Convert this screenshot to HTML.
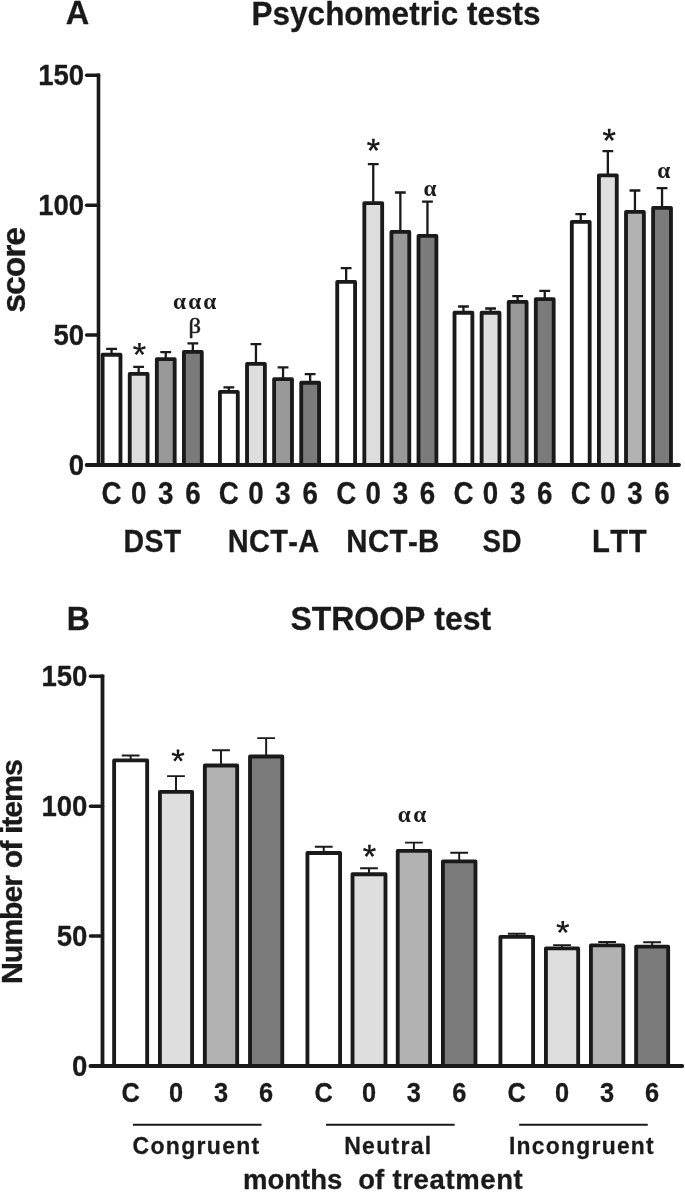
<!DOCTYPE html>
<html><head><meta charset="utf-8"><title>Figure</title>
<style>
html,body{margin:0;padding:0;background:#fff;}
body{width:685px;height:1192px;overflow:hidden;font-family:"Liberation Sans",sans-serif;}
svg{display:block;will-change:transform;}
text{font-kerning:none;}
</style></head><body>
<svg width="685" height="1192" viewBox="0 0 685 1192">
<rect width="685" height="1192" fill="#ffffff"/>
<path d="M111.55 353.80V348.90M106.15 348.90H116.95" stroke="#1a1a1a" stroke-width="2.3" fill="none"/>
<path d="M138.65 373.00V366.90M133.25 366.90H144.05" stroke="#1a1a1a" stroke-width="2.3" fill="none"/>
<path d="M165.75 358.20V352.10M160.35 352.10H171.15" stroke="#1a1a1a" stroke-width="2.3" fill="none"/>
<path d="M192.85 351.00V343.30M187.45 343.30H198.25" stroke="#1a1a1a" stroke-width="2.3" fill="none"/>
<path d="M228.85 391.00V387.30M223.45 387.30H234.25" stroke="#1a1a1a" stroke-width="2.3" fill="none"/>
<path d="M255.95 363.00V344.10M250.55 344.10H261.35" stroke="#1a1a1a" stroke-width="2.3" fill="none"/>
<path d="M283.05 378.20V367.30M277.65 367.30H288.45" stroke="#1a1a1a" stroke-width="2.3" fill="none"/>
<path d="M310.15 381.80V374.10M304.75 374.10H315.55" stroke="#1a1a1a" stroke-width="2.3" fill="none"/>
<path d="M346.15 281.00V268.10M340.75 268.10H351.55" stroke="#1a1a1a" stroke-width="2.3" fill="none"/>
<path d="M373.25 202.20V164.10M367.85 164.10H378.65" stroke="#1a1a1a" stroke-width="2.3" fill="none"/>
<path d="M400.35 231.00V192.50M394.95 192.50H405.75" stroke="#1a1a1a" stroke-width="2.3" fill="none"/>
<path d="M427.45 235.00V201.70M422.05 201.70H432.85" stroke="#1a1a1a" stroke-width="2.3" fill="none"/>
<path d="M463.45 311.80V306.50M458.05 306.50H468.85" stroke="#1a1a1a" stroke-width="2.3" fill="none"/>
<path d="M490.55 311.80V308.50M485.15 308.50H495.95" stroke="#1a1a1a" stroke-width="2.3" fill="none"/>
<path d="M517.65 301.00V296.10M512.25 296.10H523.05" stroke="#1a1a1a" stroke-width="2.3" fill="none"/>
<path d="M544.75 298.20V290.90M539.35 290.90H550.15" stroke="#1a1a1a" stroke-width="2.3" fill="none"/>
<path d="M580.75 221.00V214.10M575.35 214.10H586.15" stroke="#1a1a1a" stroke-width="2.3" fill="none"/>
<path d="M607.85 174.40V151.10M602.45 151.10H613.25" stroke="#1a1a1a" stroke-width="2.3" fill="none"/>
<path d="M634.95 211.00V190.50M629.55 190.50H640.35" stroke="#1a1a1a" stroke-width="2.3" fill="none"/>
<path d="M662.05 207.00V188.10M656.65 188.10H667.45" stroke="#1a1a1a" stroke-width="2.3" fill="none"/>
<rect x="102.62" y="354.73" width="17.85" height="110.27" fill="#ffffff" stroke="#1a1a1a" stroke-width="3.85" stroke-linejoin="round"/>
<text transform="translate(111.55 503.90) scale(0.88 1)" font-family="Liberation Sans, sans-serif" font-size="31.5" font-weight="bold" text-anchor="middle" fill="#1a1a1a" stroke="#1a1a1a" stroke-width="0.3" stroke-linejoin="round" >C</text>
<rect x="129.73" y="373.93" width="17.85" height="91.07" fill="#dedede" stroke="#1a1a1a" stroke-width="3.85" stroke-linejoin="round"/>
<text transform="translate(138.65 503.90) scale(0.88 1)" font-family="Liberation Sans, sans-serif" font-size="31.5" font-weight="bold" text-anchor="middle" fill="#1a1a1a" stroke="#1a1a1a" stroke-width="0.3" stroke-linejoin="round" >0</text>
<rect x="156.83" y="359.12" width="17.85" height="105.88" fill="#999999" stroke="#1a1a1a" stroke-width="3.85" stroke-linejoin="round"/>
<text transform="translate(165.75 503.90) scale(0.88 1)" font-family="Liberation Sans, sans-serif" font-size="31.5" font-weight="bold" text-anchor="middle" fill="#1a1a1a" stroke="#1a1a1a" stroke-width="0.3" stroke-linejoin="round" >3</text>
<rect x="183.93" y="351.93" width="17.85" height="113.07" fill="#7b7b7b" stroke="#1a1a1a" stroke-width="3.85" stroke-linejoin="round"/>
<text transform="translate(192.85 503.90) scale(0.88 1)" font-family="Liberation Sans, sans-serif" font-size="31.5" font-weight="bold" text-anchor="middle" fill="#1a1a1a" stroke="#1a1a1a" stroke-width="0.3" stroke-linejoin="round" >6</text>
<text transform="translate(152.50 551.60) scale(0.905 1)" font-family="Liberation Sans, sans-serif" font-size="31.5" font-weight="bold" text-anchor="middle" fill="#1a1a1a" stroke="#1a1a1a" stroke-width="0.3" stroke-linejoin="round" letter-spacing="0.4">DST</text>
<rect x="219.93" y="391.93" width="17.85" height="73.07" fill="#ffffff" stroke="#1a1a1a" stroke-width="3.85" stroke-linejoin="round"/>
<text transform="translate(228.85 503.90) scale(0.88 1)" font-family="Liberation Sans, sans-serif" font-size="31.5" font-weight="bold" text-anchor="middle" fill="#1a1a1a" stroke="#1a1a1a" stroke-width="0.3" stroke-linejoin="round" >C</text>
<rect x="247.03" y="363.93" width="17.85" height="101.07" fill="#dedede" stroke="#1a1a1a" stroke-width="3.85" stroke-linejoin="round"/>
<text transform="translate(255.95 503.90) scale(0.88 1)" font-family="Liberation Sans, sans-serif" font-size="31.5" font-weight="bold" text-anchor="middle" fill="#1a1a1a" stroke="#1a1a1a" stroke-width="0.3" stroke-linejoin="round" >0</text>
<rect x="274.12" y="379.12" width="17.85" height="85.88" fill="#999999" stroke="#1a1a1a" stroke-width="3.85" stroke-linejoin="round"/>
<text transform="translate(283.05 503.90) scale(0.88 1)" font-family="Liberation Sans, sans-serif" font-size="31.5" font-weight="bold" text-anchor="middle" fill="#1a1a1a" stroke="#1a1a1a" stroke-width="0.3" stroke-linejoin="round" >3</text>
<rect x="301.23" y="382.73" width="17.85" height="82.27" fill="#7b7b7b" stroke="#1a1a1a" stroke-width="3.85" stroke-linejoin="round"/>
<text transform="translate(310.15 503.90) scale(0.88 1)" font-family="Liberation Sans, sans-serif" font-size="31.5" font-weight="bold" text-anchor="middle" fill="#1a1a1a" stroke="#1a1a1a" stroke-width="0.3" stroke-linejoin="round" >6</text>
<text transform="translate(273.60 551.60) scale(0.92 1)" font-family="Liberation Sans, sans-serif" font-size="31.5" font-weight="bold" text-anchor="middle" fill="#1a1a1a" stroke="#1a1a1a" stroke-width="0.3" stroke-linejoin="round" letter-spacing="0.4">NCT-A</text>
<rect x="337.23" y="281.93" width="17.85" height="183.07" fill="#ffffff" stroke="#1a1a1a" stroke-width="3.85" stroke-linejoin="round"/>
<text transform="translate(346.15 503.90) scale(0.88 1)" font-family="Liberation Sans, sans-serif" font-size="31.5" font-weight="bold" text-anchor="middle" fill="#1a1a1a" stroke="#1a1a1a" stroke-width="0.3" stroke-linejoin="round" >C</text>
<rect x="364.33" y="203.12" width="17.85" height="261.88" fill="#dedede" stroke="#1a1a1a" stroke-width="3.85" stroke-linejoin="round"/>
<text transform="translate(373.25 503.90) scale(0.88 1)" font-family="Liberation Sans, sans-serif" font-size="31.5" font-weight="bold" text-anchor="middle" fill="#1a1a1a" stroke="#1a1a1a" stroke-width="0.3" stroke-linejoin="round" >0</text>
<rect x="391.43" y="231.93" width="17.85" height="233.07" fill="#999999" stroke="#1a1a1a" stroke-width="3.85" stroke-linejoin="round"/>
<text transform="translate(400.35 503.90) scale(0.88 1)" font-family="Liberation Sans, sans-serif" font-size="31.5" font-weight="bold" text-anchor="middle" fill="#1a1a1a" stroke="#1a1a1a" stroke-width="0.3" stroke-linejoin="round" >3</text>
<rect x="418.53" y="235.93" width="17.85" height="229.07" fill="#7b7b7b" stroke="#1a1a1a" stroke-width="3.85" stroke-linejoin="round"/>
<text transform="translate(427.45 503.90) scale(0.88 1)" font-family="Liberation Sans, sans-serif" font-size="31.5" font-weight="bold" text-anchor="middle" fill="#1a1a1a" stroke="#1a1a1a" stroke-width="0.3" stroke-linejoin="round" >6</text>
<text transform="translate(393.00 551.60) scale(0.935 1)" font-family="Liberation Sans, sans-serif" font-size="31.5" font-weight="bold" text-anchor="middle" fill="#1a1a1a" stroke="#1a1a1a" stroke-width="0.3" stroke-linejoin="round" letter-spacing="0.4">NCT-B</text>
<rect x="454.52" y="312.73" width="17.85" height="152.27" fill="#ffffff" stroke="#1a1a1a" stroke-width="3.85" stroke-linejoin="round"/>
<text transform="translate(463.45 503.90) scale(0.88 1)" font-family="Liberation Sans, sans-serif" font-size="31.5" font-weight="bold" text-anchor="middle" fill="#1a1a1a" stroke="#1a1a1a" stroke-width="0.3" stroke-linejoin="round" >C</text>
<rect x="481.62" y="312.73" width="17.85" height="152.27" fill="#dedede" stroke="#1a1a1a" stroke-width="3.85" stroke-linejoin="round"/>
<text transform="translate(490.55 503.90) scale(0.88 1)" font-family="Liberation Sans, sans-serif" font-size="31.5" font-weight="bold" text-anchor="middle" fill="#1a1a1a" stroke="#1a1a1a" stroke-width="0.3" stroke-linejoin="round" >0</text>
<rect x="508.72" y="301.93" width="17.85" height="163.07" fill="#999999" stroke="#1a1a1a" stroke-width="3.85" stroke-linejoin="round"/>
<text transform="translate(517.65 503.90) scale(0.88 1)" font-family="Liberation Sans, sans-serif" font-size="31.5" font-weight="bold" text-anchor="middle" fill="#1a1a1a" stroke="#1a1a1a" stroke-width="0.3" stroke-linejoin="round" >3</text>
<rect x="535.82" y="299.12" width="17.85" height="165.88" fill="#7b7b7b" stroke="#1a1a1a" stroke-width="3.85" stroke-linejoin="round"/>
<text transform="translate(544.75 503.90) scale(0.88 1)" font-family="Liberation Sans, sans-serif" font-size="31.5" font-weight="bold" text-anchor="middle" fill="#1a1a1a" stroke="#1a1a1a" stroke-width="0.3" stroke-linejoin="round" >6</text>
<text transform="translate(502.20 551.60) scale(0.88 1)" font-family="Liberation Sans, sans-serif" font-size="31.5" font-weight="bold" text-anchor="middle" fill="#1a1a1a" stroke="#1a1a1a" stroke-width="0.3" stroke-linejoin="round" letter-spacing="0.4">SD</text>
<rect x="571.82" y="221.93" width="17.85" height="243.07" fill="#ffffff" stroke="#1a1a1a" stroke-width="3.85" stroke-linejoin="round"/>
<text transform="translate(580.75 503.90) scale(0.88 1)" font-family="Liberation Sans, sans-serif" font-size="31.5" font-weight="bold" text-anchor="middle" fill="#1a1a1a" stroke="#1a1a1a" stroke-width="0.3" stroke-linejoin="round" >C</text>
<rect x="598.92" y="175.33" width="17.85" height="289.67" fill="#dedede" stroke="#1a1a1a" stroke-width="3.85" stroke-linejoin="round"/>
<text transform="translate(607.85 503.90) scale(0.88 1)" font-family="Liberation Sans, sans-serif" font-size="31.5" font-weight="bold" text-anchor="middle" fill="#1a1a1a" stroke="#1a1a1a" stroke-width="0.3" stroke-linejoin="round" >0</text>
<rect x="626.02" y="211.93" width="17.85" height="253.07" fill="#b2b2b2" stroke="#1a1a1a" stroke-width="3.85" stroke-linejoin="round"/>
<text transform="translate(634.95 503.90) scale(0.88 1)" font-family="Liberation Sans, sans-serif" font-size="31.5" font-weight="bold" text-anchor="middle" fill="#1a1a1a" stroke="#1a1a1a" stroke-width="0.3" stroke-linejoin="round" >3</text>
<rect x="653.12" y="207.93" width="17.85" height="257.07" fill="#7b7b7b" stroke="#1a1a1a" stroke-width="3.85" stroke-linejoin="round"/>
<text transform="translate(662.05 503.90) scale(0.88 1)" font-family="Liberation Sans, sans-serif" font-size="31.5" font-weight="bold" text-anchor="middle" fill="#1a1a1a" stroke="#1a1a1a" stroke-width="0.3" stroke-linejoin="round" >6</text>
<text transform="translate(619.50 551.60) scale(0.93 1)" font-family="Liberation Sans, sans-serif" font-size="31.5" font-weight="bold" text-anchor="middle" fill="#1a1a1a" stroke="#1a1a1a" stroke-width="0.3" stroke-linejoin="round" letter-spacing="0.4">LTT</text>
<path d="M98.5 73.44V466.90" stroke="#1a1a1a" stroke-width="3.6" fill="none"/>
<path d="M86.6 465.0H679" stroke="#1a1a1a" stroke-width="3.8" fill="none" stroke-linecap="round"/>
<path d="M86.6 335.06H98.5" stroke="#1a1a1a" stroke-width="3.5" fill="none" stroke-linecap="round"/>
<path d="M86.6 205.13H98.5" stroke="#1a1a1a" stroke-width="3.5" fill="none" stroke-linecap="round"/>
<path d="M86.6 75.19H98.5" stroke="#1a1a1a" stroke-width="3.5" fill="none" stroke-linecap="round"/>
<text transform="translate(84.20 475.30) scale(0.91 1)" font-family="Liberation Sans, sans-serif" font-size="30.3" font-weight="bold" text-anchor="end" fill="#1a1a1a" stroke="#1a1a1a" stroke-width="0.3" stroke-linejoin="round" >0</text>
<text transform="translate(84.20 345.37) scale(0.91 1)" font-family="Liberation Sans, sans-serif" font-size="30.3" font-weight="bold" text-anchor="end" fill="#1a1a1a" stroke="#1a1a1a" stroke-width="0.3" stroke-linejoin="round" >50</text>
<text transform="translate(84.20 215.43) scale(0.91 1)" font-family="Liberation Sans, sans-serif" font-size="30.3" font-weight="bold" text-anchor="end" fill="#1a1a1a" stroke="#1a1a1a" stroke-width="0.3" stroke-linejoin="round" >100</text>
<text transform="translate(84.20 85.49) scale(0.91 1)" font-family="Liberation Sans, sans-serif" font-size="30.3" font-weight="bold" text-anchor="end" fill="#1a1a1a" stroke="#1a1a1a" stroke-width="0.3" stroke-linejoin="round" >150</text>
<text transform="translate(77.50 24.00) scale(0.97 1)" font-family="Liberation Sans, sans-serif" font-size="33.5" font-weight="bold" text-anchor="middle" fill="#1a1a1a" stroke="#1a1a1a" stroke-width="0.3" stroke-linejoin="round" >A</text>
<text transform="translate(396.00 25.40) scale(0.955 1)" font-family="Liberation Sans, sans-serif" font-size="33" font-weight="bold" text-anchor="middle" fill="#1a1a1a" stroke="#1a1a1a" stroke-width="0.3" stroke-linejoin="round" >Psychometric tests</text>
<text transform="translate(25.0 270.3) rotate(-90)" font-family="Liberation Sans, sans-serif" font-size="33.8" font-weight="bold" text-anchor="middle" fill="#1a1a1a" stroke="#1a1a1a" stroke-width="0.3" letter-spacing="-1.1">score</text>
<path d="M140.40 349.20L140.85 342.90L138.05 342.90L138.50 349.20ZM139.74 348.30L133.89 345.92L133.03 348.58L139.16 350.10ZM138.68 348.64L134.61 353.47L136.88 355.12L140.22 349.76ZM138.68 349.76L142.02 355.12L144.29 353.47L140.22 348.64ZM139.74 350.10L145.87 348.58L145.01 345.92L139.16 348.30Z" fill="#1a1a1a"/>
<path d="M374.35 145.10L374.80 138.80L372.00 138.80L372.45 145.10ZM373.69 144.20L367.84 141.82L366.98 144.48L373.11 146.00ZM372.63 144.54L368.56 149.37L370.83 151.02L374.17 145.66ZM372.63 145.66L375.97 151.02L378.24 149.37L374.17 144.54ZM373.69 146.00L379.82 144.48L378.96 141.82L373.11 144.20Z" fill="#1a1a1a"/>
<path d="M610.15 135.10L610.60 128.80L607.80 128.80L608.25 135.10ZM609.49 134.20L603.64 131.82L602.78 134.48L608.91 136.00ZM608.43 134.54L604.36 139.37L606.63 141.02L609.97 135.66ZM608.43 135.66L611.77 141.02L614.04 139.37L609.97 134.54ZM609.49 136.00L615.62 134.48L614.76 131.82L608.91 134.20Z" fill="#1a1a1a"/>
<text transform="translate(179.45 308.50) scale(1.04 1)" font-family="Liberation Serif, sans-serif" font-size="22.5" font-weight="bold" text-anchor="middle" fill="#1a1a1a"  >α</text>
<text transform="translate(194.70 308.50) scale(1.04 1)" font-family="Liberation Serif, sans-serif" font-size="22.5" font-weight="bold" text-anchor="middle" fill="#1a1a1a"  >α</text>
<text transform="translate(209.80 308.50) scale(1.04 1)" font-family="Liberation Serif, sans-serif" font-size="22.5" font-weight="bold" text-anchor="middle" fill="#1a1a1a"  >α</text>
<text transform="translate(194.75 333.10) scale(1.12 1)" font-family="Liberation Serif, sans-serif" font-size="22" font-weight="normal" text-anchor="middle" fill="#1a1a1a" stroke="#1a1a1a" stroke-width="0.5" stroke-linejoin="round" >β</text>
<text transform="translate(430.00 195.50) scale(1.04 1)" font-family="Liberation Serif, sans-serif" font-size="22.5" font-weight="bold" text-anchor="middle" fill="#1a1a1a"  >α</text>
<text transform="translate(663.80 178.30) scale(1.04 1)" font-family="Liberation Serif, sans-serif" font-size="22.5" font-weight="bold" text-anchor="middle" fill="#1a1a1a"  >α</text>
<path d="M130.65 759.90V755.40M121.75 755.40H139.55" stroke="#1a1a1a" stroke-width="1.95" fill="none"/>
<path d="M176.00 791.30V776.10M167.10 776.10H184.90" stroke="#1a1a1a" stroke-width="1.95" fill="none"/>
<path d="M221.00 765.00V750.30M212.10 750.30H229.90" stroke="#1a1a1a" stroke-width="1.95" fill="none"/>
<path d="M266.15 756.00V738.10M257.25 738.10H275.05" stroke="#1a1a1a" stroke-width="1.95" fill="none"/>
<path d="M323.75 852.50V846.80M314.85 846.80H332.65" stroke="#1a1a1a" stroke-width="1.95" fill="none"/>
<path d="M369.00 873.70V868.30M360.10 868.30H377.90" stroke="#1a1a1a" stroke-width="1.95" fill="none"/>
<path d="M413.90 850.40V842.60M405.00 842.60H422.80" stroke="#1a1a1a" stroke-width="1.95" fill="none"/>
<path d="M459.20 860.90V852.80M450.30 852.80H468.10" stroke="#1a1a1a" stroke-width="1.95" fill="none"/>
<path d="M516.75 936.40V933.70M507.85 933.70H525.65" stroke="#1a1a1a" stroke-width="1.95" fill="none"/>
<path d="M562.05 947.90V945.10M553.15 945.10H570.95" stroke="#1a1a1a" stroke-width="1.95" fill="none"/>
<path d="M607.15 944.80V942.00M598.25 942.00H616.05" stroke="#1a1a1a" stroke-width="1.95" fill="none"/>
<path d="M652.15 946.10V942.20M643.25 942.20H661.05" stroke="#1a1a1a" stroke-width="1.95" fill="none"/>
<rect x="114.12" y="760.42" width="33.05" height="305.58" fill="#ffffff" stroke="#1a1a1a" stroke-width="3.85" stroke-linejoin="round"/>
<text transform="translate(130.65 1102.40) scale(0.94 1)" font-family="Liberation Sans, sans-serif" font-size="27" font-weight="bold" text-anchor="middle" fill="#1a1a1a" stroke="#1a1a1a" stroke-width="0.3" stroke-linejoin="round" >C</text>
<rect x="159.93" y="791.82" width="32.15" height="274.18" fill="#dedede" stroke="#1a1a1a" stroke-width="3.85" stroke-linejoin="round"/>
<text transform="translate(176.00 1102.40) scale(0.94 1)" font-family="Liberation Sans, sans-serif" font-size="27" font-weight="bold" text-anchor="middle" fill="#1a1a1a" stroke="#1a1a1a" stroke-width="0.3" stroke-linejoin="round" >0</text>
<rect x="204.83" y="765.52" width="32.35" height="300.48" fill="#b2b2b2" stroke="#1a1a1a" stroke-width="3.85" stroke-linejoin="round"/>
<text transform="translate(221.00 1102.40) scale(0.94 1)" font-family="Liberation Sans, sans-serif" font-size="27" font-weight="bold" text-anchor="middle" fill="#1a1a1a" stroke="#1a1a1a" stroke-width="0.3" stroke-linejoin="round" >3</text>
<rect x="250.03" y="756.52" width="32.25" height="309.48" fill="#7b7b7b" stroke="#1a1a1a" stroke-width="3.85" stroke-linejoin="round"/>
<text transform="translate(266.15 1102.40) scale(0.94 1)" font-family="Liberation Sans, sans-serif" font-size="27" font-weight="bold" text-anchor="middle" fill="#1a1a1a" stroke="#1a1a1a" stroke-width="0.3" stroke-linejoin="round" >6</text>
<path d="M132.95 1124.7H261.55" stroke="#1a1a1a" stroke-width="2" fill="none"/>
<text transform="translate(196.55 1154.00) scale(0.96 1)" font-family="Liberation Sans, sans-serif" font-size="24" font-weight="bold" text-anchor="middle" fill="#1a1a1a" stroke="#1a1a1a" stroke-width="0.25" stroke-linejoin="round" letter-spacing="1.35">Congruent</text>
<rect x="307.43" y="853.02" width="32.65" height="212.98" fill="#ffffff" stroke="#1a1a1a" stroke-width="3.85" stroke-linejoin="round"/>
<text transform="translate(323.75 1102.40) scale(0.94 1)" font-family="Liberation Sans, sans-serif" font-size="27" font-weight="bold" text-anchor="middle" fill="#1a1a1a" stroke="#1a1a1a" stroke-width="0.3" stroke-linejoin="round" >C</text>
<rect x="352.53" y="874.23" width="32.95" height="191.77" fill="#dedede" stroke="#1a1a1a" stroke-width="3.85" stroke-linejoin="round"/>
<text transform="translate(369.00 1102.40) scale(0.94 1)" font-family="Liberation Sans, sans-serif" font-size="27" font-weight="bold" text-anchor="middle" fill="#1a1a1a" stroke="#1a1a1a" stroke-width="0.3" stroke-linejoin="round" >0</text>
<rect x="397.73" y="850.92" width="32.35" height="215.08" fill="#b2b2b2" stroke="#1a1a1a" stroke-width="3.85" stroke-linejoin="round"/>
<text transform="translate(413.90 1102.40) scale(0.94 1)" font-family="Liberation Sans, sans-serif" font-size="27" font-weight="bold" text-anchor="middle" fill="#1a1a1a" stroke="#1a1a1a" stroke-width="0.3" stroke-linejoin="round" >3</text>
<rect x="442.93" y="861.42" width="32.55" height="204.58" fill="#7b7b7b" stroke="#1a1a1a" stroke-width="3.85" stroke-linejoin="round"/>
<text transform="translate(459.20 1102.40) scale(0.94 1)" font-family="Liberation Sans, sans-serif" font-size="27" font-weight="bold" text-anchor="middle" fill="#1a1a1a" stroke="#1a1a1a" stroke-width="0.3" stroke-linejoin="round" >6</text>
<path d="M326.05 1124.7H454.65" stroke="#1a1a1a" stroke-width="2" fill="none"/>
<text transform="translate(388.35 1154.00) scale(0.96 1)" font-family="Liberation Sans, sans-serif" font-size="24" font-weight="bold" text-anchor="middle" fill="#1a1a1a" stroke="#1a1a1a" stroke-width="0.25" stroke-linejoin="round" letter-spacing="1.35">Neutral</text>
<rect x="500.43" y="936.92" width="32.65" height="129.08" fill="#ffffff" stroke="#1a1a1a" stroke-width="3.85" stroke-linejoin="round"/>
<text transform="translate(516.75 1102.40) scale(0.94 1)" font-family="Liberation Sans, sans-serif" font-size="27" font-weight="bold" text-anchor="middle" fill="#1a1a1a" stroke="#1a1a1a" stroke-width="0.3" stroke-linejoin="round" >C</text>
<rect x="545.92" y="948.42" width="32.25" height="117.58" fill="#dedede" stroke="#1a1a1a" stroke-width="3.85" stroke-linejoin="round"/>
<text transform="translate(562.05 1102.40) scale(0.94 1)" font-family="Liberation Sans, sans-serif" font-size="27" font-weight="bold" text-anchor="middle" fill="#1a1a1a" stroke="#1a1a1a" stroke-width="0.3" stroke-linejoin="round" >0</text>
<rect x="590.92" y="945.32" width="32.45" height="120.68" fill="#b2b2b2" stroke="#1a1a1a" stroke-width="3.85" stroke-linejoin="round"/>
<text transform="translate(607.15 1102.40) scale(0.94 1)" font-family="Liberation Sans, sans-serif" font-size="27" font-weight="bold" text-anchor="middle" fill="#1a1a1a" stroke="#1a1a1a" stroke-width="0.3" stroke-linejoin="round" >3</text>
<rect x="636.12" y="946.62" width="32.05" height="119.38" fill="#7b7b7b" stroke="#1a1a1a" stroke-width="3.85" stroke-linejoin="round"/>
<text transform="translate(652.15 1102.40) scale(0.94 1)" font-family="Liberation Sans, sans-serif" font-size="27" font-weight="bold" text-anchor="middle" fill="#1a1a1a" stroke="#1a1a1a" stroke-width="0.3" stroke-linejoin="round" >6</text>
<path d="M519.15 1124.7H647.75" stroke="#1a1a1a" stroke-width="2" fill="none"/>
<text transform="translate(581.95 1154.00) scale(0.952 1)" font-family="Liberation Sans, sans-serif" font-size="24" font-weight="bold" text-anchor="middle" fill="#1a1a1a" stroke="#1a1a1a" stroke-width="0.25" stroke-linejoin="round" letter-spacing="1.35">Incongruent</text>
<path d="M102.5 674.44V1067.90" stroke="#1a1a1a" stroke-width="3.8" fill="none"/>
<path d="M90.5 1066.0H682.2" stroke="#1a1a1a" stroke-width="4" fill="none" stroke-linecap="round"/>
<path d="M90.5 936.07H102.5" stroke="#1a1a1a" stroke-width="3.5" fill="none" stroke-linecap="round"/>
<path d="M90.5 806.13H102.5" stroke="#1a1a1a" stroke-width="3.5" fill="none" stroke-linecap="round"/>
<path d="M90.5 676.19H102.5" stroke="#1a1a1a" stroke-width="3.5" fill="none" stroke-linecap="round"/>
<text transform="translate(87.40 1076.10) scale(0.91 1)" font-family="Liberation Sans, sans-serif" font-size="30.3" font-weight="bold" text-anchor="end" fill="#1a1a1a" stroke="#1a1a1a" stroke-width="0.3" stroke-linejoin="round" >0</text>
<text transform="translate(87.40 946.17) scale(0.91 1)" font-family="Liberation Sans, sans-serif" font-size="30.3" font-weight="bold" text-anchor="end" fill="#1a1a1a" stroke="#1a1a1a" stroke-width="0.3" stroke-linejoin="round" >50</text>
<text transform="translate(87.40 816.23) scale(0.91 1)" font-family="Liberation Sans, sans-serif" font-size="30.3" font-weight="bold" text-anchor="end" fill="#1a1a1a" stroke="#1a1a1a" stroke-width="0.3" stroke-linejoin="round" >100</text>
<text transform="translate(87.40 686.29) scale(0.91 1)" font-family="Liberation Sans, sans-serif" font-size="30.3" font-weight="bold" text-anchor="end" fill="#1a1a1a" stroke="#1a1a1a" stroke-width="0.3" stroke-linejoin="round" >150</text>
<text transform="translate(78.40 630.20) scale(0.97 1)" font-family="Liberation Sans, sans-serif" font-size="33" font-weight="bold" text-anchor="middle" fill="#1a1a1a" stroke="#1a1a1a" stroke-width="0.3" stroke-linejoin="round" >B</text>
<text transform="translate(390.80 630.20) scale(0.955 1)" font-family="Liberation Sans, sans-serif" font-size="33.5" font-weight="bold" text-anchor="middle" fill="#1a1a1a" stroke="#1a1a1a" stroke-width="0.3" stroke-linejoin="round" >STROOP test</text>
<text transform="translate(21.8 872.2) rotate(-90)" font-family="Liberation Sans, sans-serif" font-size="30.4" font-weight="bold" text-anchor="middle" fill="#1a1a1a" stroke="#1a1a1a" stroke-width="0.35" letter-spacing="-1.15" word-spacing="0.6">Number of items</text>
<text transform="translate(243.00 1189.20) scale(1.0 1)" font-family="Liberation Sans, sans-serif" font-size="27.5" font-weight="bold" text-anchor="start" fill="#1a1a1a" stroke="#1a1a1a" stroke-width="0.3" stroke-linejoin="round" >months</text>
<text transform="translate(358.20 1189.20) scale(1.0 1)" font-family="Liberation Sans, sans-serif" font-size="27.5" font-weight="bold" text-anchor="start" fill="#1a1a1a" stroke="#1a1a1a" stroke-width="0.3" stroke-linejoin="round" >of</text>
<text transform="translate(392.50 1189.20) scale(1.0 1)" font-family="Liberation Sans, sans-serif" font-size="27.5" font-weight="bold" text-anchor="start" fill="#1a1a1a" stroke="#1a1a1a" stroke-width="0.3" stroke-linejoin="round" letter-spacing="0.62">treatment</text>
<path d="M178.95 755.70L179.40 749.40L176.60 749.40L177.05 755.70ZM178.29 754.80L172.44 752.42L171.58 755.08L177.71 756.60ZM177.23 755.14L173.16 759.97L175.43 761.62L178.77 756.26ZM177.23 756.26L180.57 761.62L182.84 759.97L178.77 755.14ZM178.29 756.60L184.42 755.08L183.56 752.42L177.71 754.80Z" fill="#1a1a1a"/>
<path d="M370.40 851.10L370.85 844.80L368.05 844.80L368.50 851.10ZM369.74 850.20L363.89 847.82L363.03 850.48L369.16 852.00ZM368.68 850.54L364.61 855.37L366.88 857.02L370.22 851.66ZM368.68 851.66L372.02 857.02L374.29 855.37L370.22 850.54ZM369.74 852.00L375.87 850.48L375.01 847.82L369.16 850.20Z" fill="#1a1a1a"/>
<path d="M563.75 927.20L564.20 920.90L561.40 920.90L561.85 927.20ZM563.09 926.30L557.24 923.92L556.38 926.58L562.51 928.10ZM562.03 926.64L557.96 931.47L560.23 933.12L563.57 927.76ZM562.03 927.76L565.37 933.12L567.64 931.47L563.57 926.64ZM563.09 928.10L569.22 926.58L568.36 923.92L562.51 926.30Z" fill="#1a1a1a"/>
<text transform="translate(404.20 821.70) scale(1.04 1)" font-family="Liberation Serif, sans-serif" font-size="22.5" font-weight="bold" text-anchor="middle" fill="#1a1a1a"  >α</text>
<text transform="translate(419.80 821.70) scale(1.04 1)" font-family="Liberation Serif, sans-serif" font-size="22.5" font-weight="bold" text-anchor="middle" fill="#1a1a1a"  >α</text>
</svg>
</body></html>
